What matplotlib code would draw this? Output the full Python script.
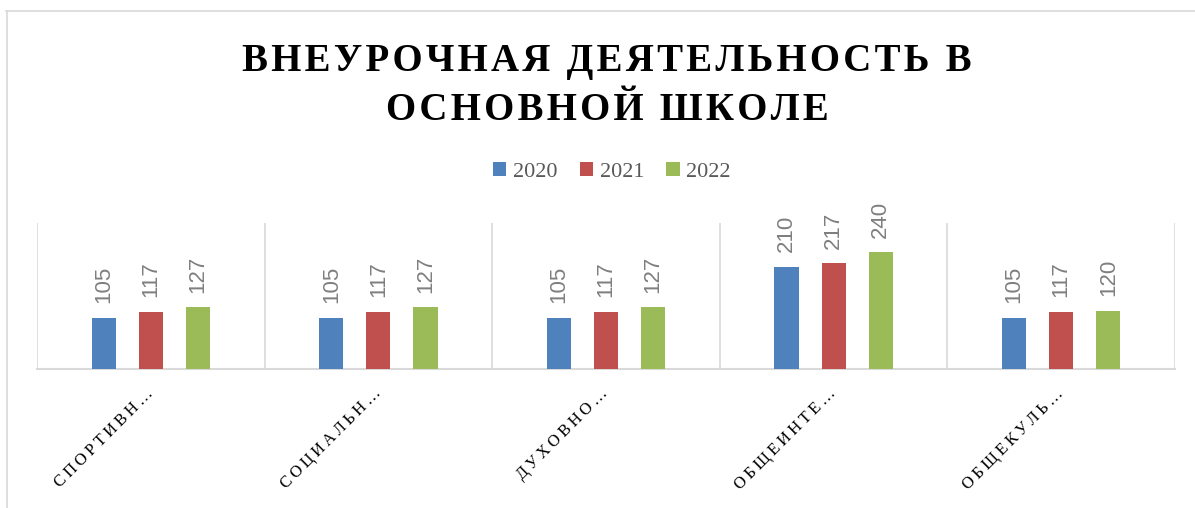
import matplotlib.pyplot as plt
import numpy as np
from matplotlib.lines import Line2D

categories = ["СПОРТИВН…", "СОЦИАЛЬН…", "ДУХОВНО…", "ОБЩЕИНТЕ…", "ОБЩЕКУЛЬ…"]
years = ["2020", "2021", "2022"]
values_2020 = [105, 105, 105, 210, 105]
values_2021 = [117, 117, 117, 217, 117]
values_2022 = [127, 127, 127, 240, 120]
colors = ["#4f81bd", "#c0504d", "#9bbb59"]

TITLE = "ВНЕУРОЧНАЯ ДЕЯТЕЛЬНОСТЬ В\nОСНОВНОЙ ШКОЛЕ"

W, H = 1195, 508


def spaced(text: str, sep: str = "\u200a") -> str:
    return "\n".join(sep.join(line) for line in text.split("\n"))


fig = plt.figure(figsize=(W / 100, H / 100), dpi=100)
ax = fig.add_axes([37 / W, 1 - 369 / H, (1175 - 37) / W, (369 - 223) / H])

x = np.arange(len(categories))
width = 0.106
step = 0.207
for i, (vals, color, label) in enumerate(zip([values_2020, values_2021, values_2022], colors, years)):
    pos = x + (i - 1) * step
    ax.bar(pos, vals, width, color=color, label=label, zorder=3)
    for xp, v in zip(pos, vals):
        ax.text(xp, v + 30, str(v), rotation=90, ha="center", va="bottom",
                color="#7f7f7f", fontsize=16, family="Liberation Sans")

ax.set_xlim(-0.5, len(categories) - 0.5)
ax.set_ylim(0, 300)
for b in np.arange(-0.5, len(categories), 1.0):
    ax.axvline(b, color="#d9d9d9", linewidth=1.2, zorder=1)
for side in ["top", "right", "left"]:
    ax.spines[side].set_visible(False)
ax.spines["bottom"].set_color("#d9d9d9")
ax.spines["bottom"].set_linewidth(1.5)
ax.set_yticks([])
ax.set_xticks(x)
ax.set_xticklabels([spaced(c, "\u2009") for c in categories], rotation=45, ha="right", va="center",
                   rotation_mode="anchor", family="Liberation Serif", fontsize=12)
ax.tick_params(axis="x", length=0, pad=16)

fig.text(0.508, 1 - 86 / H, spaced(TITLE, "\u200a"), ha="center", va="center",
         fontsize=28, fontweight="bold", family="Liberation Serif", linespacing=1.4)

handles, labels = ax.get_legend_handles_labels()
fig.legend(handles, labels, loc="center", bbox_to_anchor=(0.512, 1 - 172 / H), ncol=3,
           frameon=False, prop={"family": "Liberation Serif", "size": 16},
           handlelength=0.6, handleheight=0.6, handletextpad=0.3, columnspacing=1.0,
           labelcolor="#595959")

# chart-area border (top and left edges visible in the crop)
fig.add_artist(Line2D([6 / W, 1], [1 - 10.5 / H] * 2, transform=fig.transFigure,
                      color="#d9d9d9", linewidth=1.2))
fig.add_artist(Line2D([7 / W] * 2, [0, 1 - 10.5 / H], transform=fig.transFigure,
                      color="#d9d9d9", linewidth=1.2))

fig.savefig("out.png", dpi=100)
